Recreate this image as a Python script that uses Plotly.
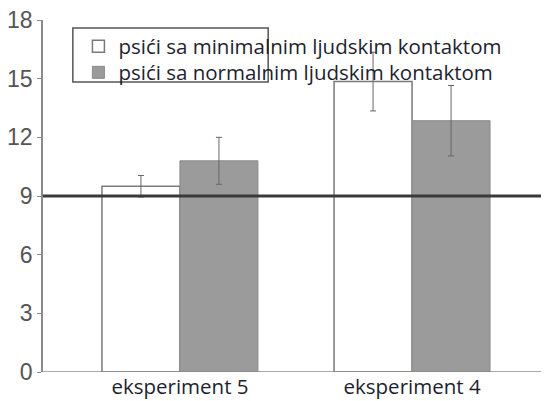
import plotly.graph_objects as go

categories = ["eksperiment 5", "eksperiment 4"]
series_names = ["psići sa minimalnim ljudskim kontaktom",
                "psići sa normalnim ljudskim kontaktom"]
minimal_values = [9.5, 14.85]
minimal_errors = [0.55, 1.5]
normal_values = [10.8, 12.85]
normal_errors = [1.2, 1.8]
reference_value = 9
y_ticks = [0, 3, 6, 9, 12, 15, 18]

x_pos = list(range(len(categories)))
bw = 0.336

fig = go.Figure()
fig.add_trace(go.Bar(
    x=x_pos, y=minimal_values, name=series_names[0],
    width=bw, offset=-bw, legend="legend",
    marker=dict(color="white", line=dict(color="#7a7a7a", width=1.5)),
    error_y=dict(type="data", array=minimal_errors, color="#666", thickness=1, width=3),
))
fig.add_trace(go.Bar(
    x=x_pos, y=normal_values, name=series_names[1],
    width=bw, offset=0, legend="legend2",
    marker=dict(color="#9b9b9b", line=dict(color="#8a8a8a", width=1)),
    error_y=dict(type="data", array=normal_errors, color="#666", thickness=1, width=3),
))

fig.add_shape(type="line", xref="paper", x0=0, x1=1, yref="y",
              y0=reference_value, y1=reference_value,
              line=dict(color="#3a3a3a", width=3), layer="above")

# legend frame (narrower than legend text, as in the original)
fig.add_shape(type="rect", xref="paper", yref="paper",
              x0=0.059, x1=0.445, y0=0.824, y1=0.977,
              line=dict(color="#555", width=1.5), layer="above")

# x-axis baseline
fig.add_shape(type="line", xref="paper", x0=0, x1=1, yref="y", y0=0, y1=0,
              line=dict(color="#8a8a8a", width=1.5), layer="above")

legend_font = dict(family="Open Sans", size=20.5, color="#1e1e2e")
fig.update_layout(
    width=541, height=393,
    margin=dict(l=35, r=0, t=12, b=29, autoexpand=False),
    paper_bgcolor="white", plot_bgcolor="white",
    barmode="overlay",
    showlegend=True,
    legend=dict(x=0.07, y=0.9815, xanchor="left", yanchor="top",
                bgcolor="rgba(0,0,0,0)", borderwidth=0, font=legend_font,
                itemclick=False),
    legend2=dict(x=0.07, y=0.9076, xanchor="left", yanchor="top",
                 bgcolor="rgba(0,0,0,0)", borderwidth=0, font=legend_font,
                 itemclick=False),
    xaxis=dict(range=[-0.59, 1.59], tickvals=x_pos, ticktext=categories,
               showgrid=False, zeroline=False, showline=False, ticks="",
               automargin=False, ticklabeloverflow="allow",
               tickfont=dict(family="Open Sans", size=20.5, color="#1e1e2e")),
    yaxis=dict(range=[0, 18], tickvals=y_ticks, showgrid=False, zeroline=False,
               showline=True, linecolor="#8a8a8a", linewidth=1.5,
               ticks="outside", ticklen=4, tickcolor="#8a8a8a", automargin=False,
               ticklabeloverflow="allow",
               tickfont=dict(family="Liberation Sans", size=23, color="#555")),
)

fig.write_html("out.html")
